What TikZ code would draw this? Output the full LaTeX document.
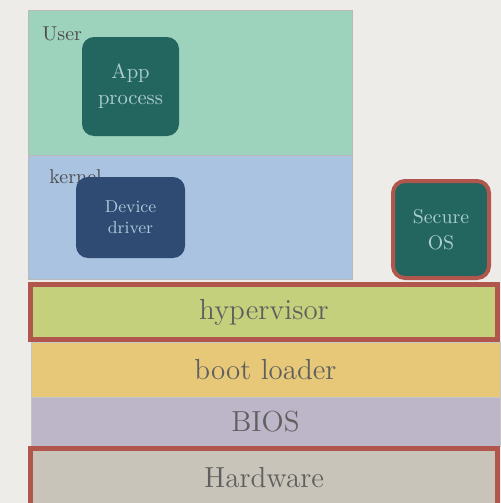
\documentclass[tikz,border=0pt]{standalone}
\usepackage{xcolor}

\definecolor{paper}{HTML}{EEECE8}
\definecolor{usergreen}{HTML}{9DD2BD}
\definecolor{kernelblue}{HTML}{A9C3E0}
\definecolor{appteal}{HTML}{236660}
\definecolor{drivernavy}{HTML}{2F4A73}
\definecolor{alertred}{HTML}{B0564C}
\definecolor{hyperlime}{HTML}{C4D07C}
\definecolor{bootsand}{HTML}{E6C878}
\definecolor{bioslilac}{HTML}{BDB5C8}
\definecolor{hwstone}{HTML}{C9C4BA}
\definecolor{layertext}{HTML}{5F5F5F}
\definecolor{proctext}{HTML}{ABCDD2}

\tikzset{
  space/.style={draw=gray!55, line width=0.4pt, inner sep=0pt},
  layer/.style={draw=gray!45, line width=0.4pt, inner sep=0pt, text=layertext,
    font=\fontsize{14.5}{16}\selectfont},
  ring/.style={draw=alertred, line width=2.5pt},
  proc/.style={rounded corners=6pt, inner sep=0pt, align=center, text=proctext},
  tag/.style={anchor=base west, inner sep=0pt, text=layertext!80!black,
    font=\fontsize{10}{12}\selectfont},
}

\begin{document}
\begin{tikzpicture}[x=0.5pt, y=-0.5pt]
\useasboundingbox (0,0) rectangle (501,503);
\clip (0,0) rectangle (501,503);
\fill[paper] (0,0) rectangle (501,503);

% address spaces
\node[space, fill=usergreen, minimum width=162pt, minimum height=72.5pt] (user) at (190,82.5) {};
\node[space, fill=kernelblue, minimum width=162pt, minimum height=62pt] (kernel) at (190,217) {};
\node[tag] (userlbl) at (42,40) {User};
\node[tag] (kernellbl) at (49,183) {kernel};

\node[proc, fill=appteal, minimum width=48.5pt, minimum height=49.5pt,
  font=\fontsize{10.3}{13}\selectfont] (app) at (130.5,86.5) {App\\process};
\node[proc, fill=drivernavy, minimum width=54.5pt, minimum height=40.5pt,
  font=\fontsize{8.6}{10.5}\selectfont, text=proctext!70!kernelblue] (driver) at (130.5,217.5) {Device\\driver};
\node[proc, fill=appteal, draw=alertred, line width=2pt, minimum width=48pt, minimum height=48.5pt,
  font=\fontsize{9.9}{13}\selectfont] (secure) at (441,229.5) {Secure\\OS};

% boot stack
\node[layer, fill=bootsand, minimum width=234.5pt, minimum height=27.5pt] (boot) at (265.5,369.5) {boot loader};
\node[layer, fill=bioslilac, minimum width=234.5pt, minimum height=24.5pt] (bios) at (265.5,421.5) {BIOS};
\node[layer, ring, fill=hyperlime, minimum width=233.5pt, minimum height=27.5pt] (hyper) at (264,312) {hypervisor};
\node[layer, ring, fill=hwstone, minimum width=233.5pt, minimum height=29.5pt] (hw) at (264,478) {Hardware};

\end{tikzpicture}
\end{document}
